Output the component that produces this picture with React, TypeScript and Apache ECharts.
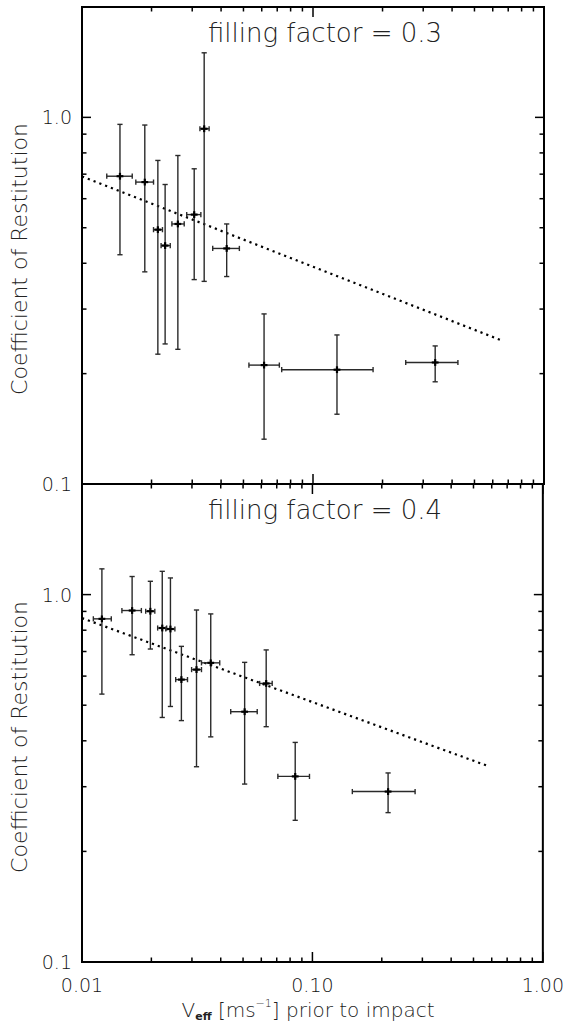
import React, { useEffect, useRef } from "react";
import * as echarts from "echarts";

// ---- Data ----
const TOP_V = [0.0146, 0.0187, 0.0213, 0.0229, 0.026, 0.0306, 0.0338, 0.0423, 0.0614, 0.127, 0.338];
const TOP_V_LO = [0.0128, 0.0171, 0.0204, 0.022, 0.0245, 0.0284, 0.0324, 0.0368, 0.0528, 0.0732, 0.252];
const TOP_V_HI = [0.0165, 0.0204, 0.0223, 0.0241, 0.0277, 0.0327, 0.0355, 0.048, 0.0715, 0.182, 0.424];
const TOP_COR = [0.691, 0.666, 0.494, 0.447, 0.512, 0.543, 0.931, 0.439, 0.211, 0.205, 0.2145];
const TOP_COR_LO = [0.422, 0.379, 0.226, 0.241, 0.233, 0.361, 0.357, 0.368, 0.1325, 0.155, 0.19];
const TOP_COR_HI = [0.957, 0.953, 0.763, 0.656, 0.787, 0.724, 1.5, 0.512, 0.291, 0.255, 0.238];

const BOT_V = [0.0122, 0.0165, 0.0198, 0.0223, 0.0242, 0.027, 0.0314, 0.0362, 0.0508, 0.063, 0.0842, 0.213];
const BOT_V_LO = [0.0112, 0.0149, 0.0189, 0.0213, 0.0231, 0.0255, 0.0299, 0.033, 0.0442, 0.059, 0.0708, 0.149];
const BOT_V_HI = [0.0134, 0.0181, 0.0207, 0.0233, 0.0253, 0.0287, 0.033, 0.0396, 0.0576, 0.0669, 0.0971, 0.279];
const BOT_COR = [0.859, 0.905, 0.901, 0.811, 0.806, 0.587, 0.625, 0.652, 0.48, 0.573, 0.32, 0.291];
const BOT_COR_LO = [0.536, 0.686, 0.711, 0.463, 0.496, 0.454, 0.34, 0.41, 0.305, 0.437, 0.243, 0.255];
const BOT_COR_HI = [1.175, 1.12, 1.087, 1.157, 1.11, 0.723, 0.908, 0.886, 0.654, 0.707, 0.396, 0.327];

const TOP_FIT_V = [0.01, 0.66];
const TOP_FIT_COR = [0.69, 0.246];
const BOT_FIT_V = [0.01, 0.574];
const BOT_FIT_COR = [0.863, 0.342];

const PANEL_TITLES = ["filling factor = 0.3", "filling factor = 0.4"];
const Y_TITLE = "Coefficient of Restitution";

const X_MIN = 0.01;
const X_MAX = 1;
const Y_MIN = 0.1;
const Y_MAX = 2;
const X_MAJOR = [0.01, 0.1, 1];
const X_MINOR = [0.02, 0.03, 0.04, 0.05, 0.06, 0.07, 0.08, 0.09, 0.2, 0.3, 0.4, 0.5, 0.6, 0.7, 0.8, 0.9];
const Y_MAJOR = [0.1, 1];
const Y_MINOR = [0.2, 0.3, 0.4, 0.5, 0.6, 0.7, 0.8, 0.9];

const FONT = "DejaVu Sans";
const INK = "#111";

function isDecade(v: number) {
  const l = Math.log10(v);
  return Math.abs(l - Math.round(l)) < 1e-6;
}

export default function App() {
  const ref = useRef<HTMLDivElement>(null);

  useEffect(() => {
    if (!ref.current) return;
    const chart = echarts.init(ref.current, null, { renderer: "svg" });

    const grids = [
      { left: 82, top: 7, width: 462, height: 477, show: true, borderColor: "#000", borderWidth: 2, backgroundColor: "transparent" },
      { left: 82, top: 484, width: 462, height: 478, show: true, borderColor: "#000", borderWidth: 2, backgroundColor: "transparent" },
    ];

    const xAxisBase = (gi: number, showLabels: boolean) => ({
      type: "log",
      gridIndex: gi,
      min: X_MIN,
      max: X_MAX,
      logBase: 10,
      axisLine: { show: false },
      axisTick: { show: false },
      splitLine: { show: false },
      minorTick: { show: false },
      axisLabel: {
        show: showLabels,
        margin: 13,
        fontSize: 19,
        fontFamily: FONT,
        fontWeight: 200,
        color: INK,
        showMinLabel: true,
        showMaxLabel: true,
        formatter: (v: number) => (isDecade(v) ? v.toFixed(2) : ""),
      },
    });

    const yAxisBase = (gi: number) => ({
      type: "log",
      gridIndex: gi,
      min: Y_MIN,
      max: Y_MAX,
      logBase: 10,
      axisLine: { show: false },
      axisTick: { show: false },
      splitLine: { show: false },
      minorTick: { show: false },
      axisLabel: {
        margin: 10,
        fontSize: 19,
        fontFamily: FONT,
        fontWeight: 200,
        color: INK,
        showMinLabel: true,
        showMaxLabel: true,
        formatter: (v: number) => (isDecade(v) && v < 1.5 ? v.toFixed(1) : ""),
      },
    });

    const xTickData = [
      ...X_MAJOR.map((v) => [v, 1, 1]),
      ...X_MINOR.map((v) => [v, 1, 0]),
    ];
    const yTickData = [
      ...Y_MAJOR.map((v) => [0.1, v, 1]),
      ...Y_MINOR.map((v) => [0.1, v, 0]),
    ];

    const tickSeries = (gi: number) => [
      {
        type: "custom",
        xAxisIndex: gi,
        yAxisIndex: gi,
        silent: true,
        z: 5,
        data: xTickData,
        renderItem: (params: any, api: any) => {
          const cs = params.coordSys;
          const px = api.coord([api.value(0), 1])[0];
          const len = api.value(2) ? 10 : 4.5;
          const st = { stroke: "#000", lineWidth: 1.5 };
          return {
            type: "group",
            children: [
              { type: "line", shape: { x1: px, y1: cs.y + cs.height, x2: px, y2: cs.y + cs.height - len }, style: st },
              { type: "line", shape: { x1: px, y1: cs.y, x2: px, y2: cs.y + len }, style: st },
            ],
          };
        },
      },
      {
        type: "custom",
        xAxisIndex: gi,
        yAxisIndex: gi,
        silent: true,
        z: 5,
        data: yTickData,
        renderItem: (params: any, api: any) => {
          const cs = params.coordSys;
          const py = api.coord([0.1, api.value(1)])[1];
          const len = api.value(2) ? 9 : 4.5;
          const st = { stroke: "#000", lineWidth: 1.5 };
          return {
            type: "group",
            children: [
              { type: "line", shape: { x1: cs.x, y1: py, x2: cs.x + len, y2: py }, style: st },
              { type: "line", shape: { x1: cs.x + cs.width, y1: py, x2: cs.x + cs.width - len, y2: py }, style: st },
            ],
          };
        },
      },
    ];

    const errSeries = (gi: number, v: number[], vlo: number[], vhi: number[], c: number[], clo: number[], chi: number[]) => ({
      type: "custom",
      xAxisIndex: gi,
      yAxisIndex: gi,
      silent: true,
      z: 4,
      data: v.map((x, i) => [x, c[i], vlo[i], vhi[i], clo[i], chi[i]]),
      renderItem: (params: any, api: any) => {
        const x = api.value(0);
        const y = api.value(1);
        const ctr = api.coord([x, y]);
        const l = api.coord([api.value(2), y]);
        const r = api.coord([api.value(3), y]);
        const b = api.coord([x, api.value(4)]);
        const t = api.coord([x, api.value(5)]);
        const bar = { stroke: "#2a2a2a", lineWidth: 1.4 };
        const cen = { stroke: "#000", lineWidth: 2.2 };
        const cap = 2.6;
        const s = 3.4;
        return {
          type: "group",
          children: [
            { type: "line", shape: { x1: l[0], y1: ctr[1], x2: r[0], y2: ctr[1] }, style: bar },
            { type: "line", shape: { x1: l[0], y1: ctr[1] - cap, x2: l[0], y2: ctr[1] + cap }, style: bar },
            { type: "line", shape: { x1: r[0], y1: ctr[1] - cap, x2: r[0], y2: ctr[1] + cap }, style: bar },
            { type: "line", shape: { x1: ctr[0], y1: t[1], x2: ctr[0], y2: b[1] }, style: bar },
            { type: "line", shape: { x1: ctr[0] - cap, y1: t[1], x2: ctr[0] + cap, y2: t[1] }, style: bar },
            { type: "line", shape: { x1: ctr[0] - cap, y1: b[1], x2: ctr[0] + cap, y2: b[1] }, style: bar },
            { type: "line", shape: { x1: ctr[0] - s, y1: ctr[1], x2: ctr[0] + s, y2: ctr[1] }, style: cen },
            { type: "line", shape: { x1: ctr[0], y1: ctr[1] - s, x2: ctr[0], y2: ctr[1] + s }, style: cen },
          ],
        };
      },
    });

    const fitSeries = (gi: number, v: number[], c: number[]) => ({
      type: "line",
      xAxisIndex: gi,
      yAxisIndex: gi,
      silent: true,
      symbol: "none",
      z: 3,
      data: v.map((x, i) => [x, c[i]]),
      lineStyle: { color: "#000", width: 2.2, type: [2.2, 4], cap: "butt" },
    });

    const titleText = (text: string, y: number) => ({
      type: "text",
      x: 325,
      y,
      style: {
        text,
        fontSize: 26,
        fontFamily: FONT,
        fontWeight: 200,
        fill: "#222",
        align: "center",
        verticalAlign: "middle",
      },
    });

    const yTitle = (y: number) => ({
      type: "text",
      x: 19,
      y,
      rotation: Math.PI / 2,
      style: {
        text: Y_TITLE,
        fontSize: 22,
        fontFamily: FONT,
        fontWeight: 200,
        fill: "#222",
        align: "center",
        verticalAlign: "middle",
      },
    });

    const option: any = {
      animation: false,
      backgroundColor: "#fff",
      grid: grids,
      xAxis: [xAxisBase(0, false), xAxisBase(1, true)],
      yAxis: [yAxisBase(0), yAxisBase(1)],
      series: [
        ...tickSeries(0),
        ...tickSeries(1),
        fitSeries(0, TOP_FIT_V, TOP_FIT_COR),
        fitSeries(1, BOT_FIT_V, BOT_FIT_COR),
        errSeries(0, TOP_V, TOP_V_LO, TOP_V_HI, TOP_COR, TOP_COR_LO, TOP_COR_HI),
        errSeries(1, BOT_V, BOT_V_LO, BOT_V_HI, BOT_COR, BOT_COR_LO, BOT_COR_HI),
      ],
      graphic: [
        titleText(PANEL_TITLES[0], 33),
        titleText(PANEL_TITLES[1], 510),
        yTitle(259),
        yTitle(737),
        {
          type: "text",
          x: 308,
          y: 1010,
          style: {
            text: "{m|V}{s|eff}{m| [ms}{p|−1}{m|] prior to impact}",
            align: "center",
            verticalAlign: "middle",
            rich: {
              m: { fontSize: 20, fontFamily: FONT, fontWeight: 200, fill: "#222", lineHeight: 24 },
              s: { fontSize: 11, fontFamily: FONT, fontWeight: "bold", fill: "#222", verticalAlign: "bottom", lineHeight: 11 },
              p: { fontSize: 11, fontFamily: FONT, fontWeight: 200, fill: "#222", verticalAlign: "top", lineHeight: 11 },
            },
          },
        },
      ],
    };

    chart.setOption(option);
    return () => chart.dispose();
  }, []);

  return (
    <div
      ref={ref}
      style={{ position: "fixed", left: 0, top: 0, width: 567, height: 1023, background: "#fff" }}
    />
  );
}
